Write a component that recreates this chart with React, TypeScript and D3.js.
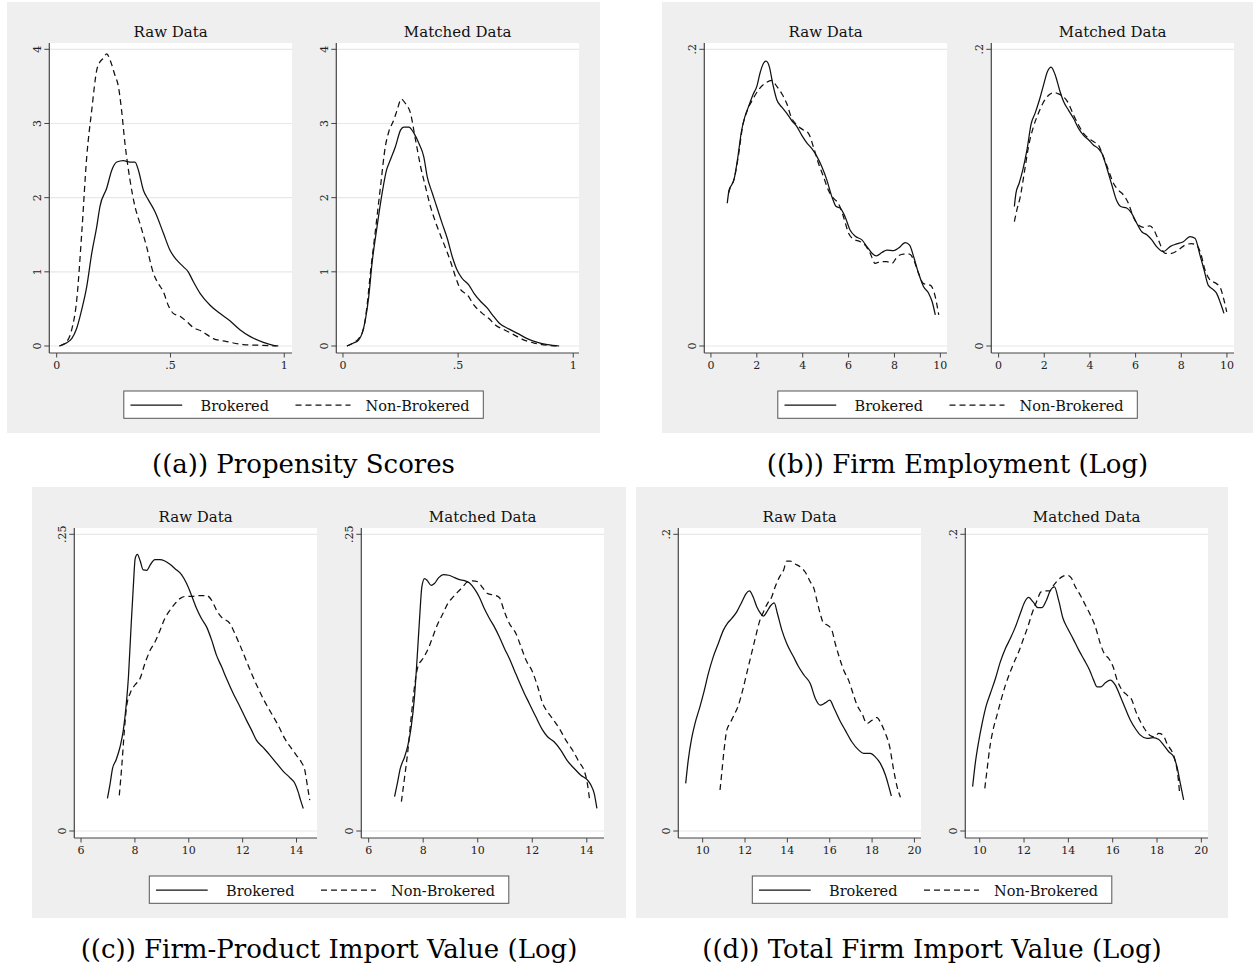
import * as d3 from "d3";

// kernel density curves, [x, density]
const propRawBrokered = [
  [0.012, 0], [0.044, 0.045], [0.066, 0.1], [0.088, 0.24], [0.11, 0.49], [0.132, 0.8], [0.154, 1.25],
  [0.176, 1.61], [0.19, 1.88], [0.22, 2.13], [0.242, 2.37], [0.264, 2.48], [0.293, 2.5], [0.322, 2.48],
  [0.344, 2.48], [0.359, 2.37], [0.381, 2.1], [0.403, 1.97], [0.432, 1.81], [0.469, 1.52], [0.498, 1.29],
  [0.527, 1.16], [0.556, 1.07], [0.578, 1.0], [0.6, 0.87], [0.63, 0.71], [0.674, 0.55], [0.717, 0.44],
  [0.761, 0.34], [0.805, 0.22], [0.849, 0.13], [0.908, 0.05], [0.966, 0],
];
const propRawNonBrokered = [
  [0.012, 0], [0.044, 0.06], [0.066, 0.22], [0.088, 0.62], [0.11, 1.52], [0.132, 2.55], [0.154, 3.18],
  [0.176, 3.72], [0.19, 3.83], [0.205, 3.88], [0.22, 3.94], [0.234, 3.86], [0.256, 3.65], [0.271, 3.5],
  [0.285, 3.18], [0.3, 2.73], [0.322, 2.24], [0.344, 1.88], [0.366, 1.65], [0.395, 1.34], [0.425, 0.98],
  [0.447, 0.84], [0.469, 0.73], [0.49, 0.55], [0.512, 0.44], [0.542, 0.4], [0.571, 0.33], [0.6, 0.25],
  [0.637, 0.2], [0.688, 0.1], [0.747, 0.06], [0.82, 0.02], [0.893, 0.01], [0.974, 0],
];
const propMatchedBrokered = [
  [0.017, 0], [0.046, 0.04], [0.068, 0.08], [0.083, 0.17], [0.097, 0.35], [0.112, 0.67], [0.126, 1.11],
  [0.148, 1.61], [0.17, 2.06], [0.189, 2.37], [0.206, 2.51], [0.228, 2.69], [0.25, 2.91], [0.264, 2.95],
  [0.286, 2.95], [0.308, 2.87], [0.33, 2.73], [0.351, 2.55], [0.366, 2.28], [0.388, 2.06], [0.409, 1.86],
  [0.431, 1.65], [0.453, 1.45], [0.475, 1.2], [0.496, 1.02], [0.518, 0.91], [0.547, 0.82], [0.569, 0.71],
  [0.598, 0.6], [0.627, 0.51], [0.649, 0.42], [0.678, 0.31], [0.714, 0.24], [0.758, 0.17], [0.8, 0.1],
  [0.845, 0.05], [0.888, 0.02], [0.939, 0],
];
const propMatchedNonBrokered = [
  [0.017, 0], [0.046, 0.045], [0.068, 0.1], [0.09, 0.24], [0.104, 0.53], [0.119, 0.98], [0.141, 1.56],
  [0.163, 2.15], [0.184, 2.69], [0.199, 2.89], [0.221, 3.05], [0.235, 3.18], [0.253, 3.33], [0.271, 3.27],
  [0.293, 3.14], [0.315, 2.78], [0.337, 2.42], [0.358, 2.15], [0.38, 1.88], [0.409, 1.61], [0.438, 1.38],
  [0.467, 1.14], [0.489, 0.93], [0.511, 0.76], [0.54, 0.69], [0.569, 0.55], [0.605, 0.44], [0.634, 0.37],
  [0.663, 0.28], [0.7, 0.22], [0.743, 0.15], [0.787, 0.08], [0.83, 0.04], [0.888, 0.01], [0.932, 0],
];

const empRawBrokered = [
  [0.71, 0.0962], [0.79, 0.105], [0.9, 0.1085], [1.0, 0.112], [1.15, 0.125], [1.34, 0.1456], [1.48, 0.1546],
  [1.63, 0.161], [1.85, 0.17], [2.0, 0.175], [2.14, 0.184], [2.29, 0.1906], [2.4, 0.192], [2.55, 0.188],
  [2.69, 0.177], [2.87, 0.166], [3.09, 0.161], [3.3, 0.157], [3.52, 0.152], [3.74, 0.148], [3.96, 0.142],
  [4.18, 0.137], [4.4, 0.133], [4.61, 0.128], [4.83, 0.121], [5.05, 0.112], [5.27, 0.1007], [5.46, 0.094],
  [5.63, 0.093], [5.85, 0.087], [6.07, 0.078], [6.29, 0.074], [6.58, 0.0715], [6.8, 0.067], [7.02, 0.0625],
  [7.21, 0.0607], [7.45, 0.063], [7.67, 0.0647], [7.96, 0.0643], [8.18, 0.066], [8.47, 0.0697], [8.66, 0.068],
  [8.84, 0.06], [9.05, 0.049], [9.27, 0.04], [9.49, 0.0355], [9.64, 0.03], [9.78, 0.021],
];
const empRawNonBrokered = [
  [0.76, 0.103], [0.86, 0.1074], [1.0, 0.112], [1.19, 0.1276], [1.38, 0.148], [1.59, 0.159], [1.85, 0.167],
  [2.07, 0.1726], [2.36, 0.177], [2.65, 0.179], [2.87, 0.175], [3.09, 0.17], [3.3, 0.1636], [3.52, 0.1535],
  [3.74, 0.149], [4.03, 0.1456], [4.25, 0.1434], [4.47, 0.134], [4.69, 0.123], [4.91, 0.114], [5.12, 0.105],
  [5.34, 0.0996], [5.56, 0.096], [5.78, 0.087], [6.0, 0.076], [6.22, 0.072], [6.51, 0.0703], [6.72, 0.068],
  [6.94, 0.0625], [7.16, 0.0557], [7.38, 0.0568], [7.67, 0.0568], [7.89, 0.0557], [8.11, 0.06], [8.4, 0.062],
  [8.66, 0.062], [8.84, 0.058], [9.05, 0.049], [9.27, 0.042], [9.56, 0.041], [9.74, 0.0355], [9.93, 0.021],
];
const empMatchedBrokered = [
  [0.69, 0.094], [0.76, 0.103], [0.9, 0.1097], [1.06, 0.1187], [1.24, 0.132], [1.43, 0.15], [1.6, 0.157],
  [1.79, 0.166], [1.97, 0.176], [2.14, 0.185], [2.3, 0.188], [2.48, 0.1827], [2.67, 0.1726], [2.84, 0.165],
  [3.06, 0.159], [3.28, 0.1535], [3.5, 0.1467], [3.72, 0.142], [3.94, 0.139], [4.15, 0.1355], [4.37, 0.133],
  [4.52, 0.13], [4.74, 0.12], [4.96, 0.1085], [5.17, 0.098], [5.35, 0.094], [5.61, 0.093], [5.83, 0.0894],
  [6.05, 0.0827], [6.27, 0.077], [6.49, 0.075], [6.71, 0.0715], [6.92, 0.067], [7.22, 0.0636], [7.51, 0.067],
  [7.8, 0.0688], [8.09, 0.0703], [8.38, 0.0737], [8.6, 0.0726], [8.82, 0.0613], [9.0, 0.0512], [9.18, 0.041],
  [9.4, 0.038], [9.55, 0.0355], [9.72, 0.0288], [9.87, 0.022],
];
const empMatchedNonBrokered = [
  [0.69, 0.0838], [0.8, 0.0917], [0.95, 0.1007], [1.12, 0.1164], [1.31, 0.1344], [1.53, 0.148], [1.71, 0.1557],
  [1.94, 0.1636], [2.19, 0.169], [2.43, 0.1708], [2.62, 0.17], [2.84, 0.168], [3.06, 0.1636], [3.28, 0.1557],
  [3.5, 0.149], [3.72, 0.1434], [3.94, 0.14], [4.15, 0.1378], [4.37, 0.1355], [4.59, 0.1276], [4.81, 0.1187],
  [5.03, 0.1097], [5.25, 0.105], [5.47, 0.1018], [5.69, 0.096], [5.9, 0.087], [6.12, 0.0816], [6.34, 0.08],
  [6.63, 0.081], [6.81, 0.078], [7.0, 0.0715], [7.29, 0.0625], [7.58, 0.0625], [7.87, 0.0647], [8.16, 0.068],
  [8.45, 0.069], [8.67, 0.068], [8.85, 0.0625], [9.04, 0.0512], [9.26, 0.0445], [9.55, 0.042], [9.72, 0.039],
  [9.87, 0.031], [9.99, 0.023],
];

const prodRawBrokered = [
  [6.98, 0.0275], [7.08, 0.04], [7.17, 0.0527], [7.3, 0.0598], [7.45, 0.071], [7.57, 0.085], [7.67, 0.1047],
  [7.76, 0.13], [7.85, 0.169], [7.94, 0.2057], [8.01, 0.2295], [8.09, 0.233], [8.19, 0.228], [8.31, 0.22],
  [8.44, 0.2197], [8.58, 0.2247], [8.74, 0.2287], [8.93, 0.2287], [9.11, 0.2275], [9.3, 0.2247], [9.49, 0.221],
  [9.73, 0.216], [9.92, 0.2085], [10.1, 0.1987], [10.29, 0.1874], [10.47, 0.179], [10.66, 0.172], [10.85, 0.1608],
  [11.03, 0.148], [11.22, 0.1383], [11.4, 0.1285], [11.65, 0.1159], [11.9, 0.1047], [12.14, 0.0934],
  [12.33, 0.085], [12.51, 0.0766], [12.76, 0.0704], [13.01, 0.064], [13.26, 0.057], [13.5, 0.0505],
  [13.75, 0.045], [13.94, 0.04], [14.06, 0.033], [14.15, 0.026], [14.25, 0.019],
];
const prodRawNonBrokered = [
  [7.42, 0.03], [7.51, 0.054], [7.61, 0.085], [7.69, 0.1047], [7.82, 0.1159], [8.0, 0.123], [8.19, 0.1285],
  [8.37, 0.141], [8.56, 0.152], [8.74, 0.159], [8.93, 0.169], [9.11, 0.179], [9.3, 0.186], [9.49, 0.1916],
  [9.67, 0.1958], [9.92, 0.1978], [10.17, 0.1978], [10.41, 0.1984], [10.66, 0.1984], [10.85, 0.1944],
  [11.03, 0.186], [11.22, 0.18], [11.53, 0.1748], [11.71, 0.1664], [11.9, 0.1566], [12.08, 0.1467],
  [12.33, 0.1327], [12.58, 0.12], [12.82, 0.109], [13.07, 0.099], [13.32, 0.089], [13.56, 0.078],
  [13.81, 0.0696], [13.99, 0.064], [14.18, 0.058], [14.31, 0.051], [14.39, 0.04], [14.49, 0.026],
];
const prodMatchedBrokered = [
  [6.95, 0.0289], [7.05, 0.04], [7.16, 0.0527], [7.32, 0.0626], [7.44, 0.0724], [7.56, 0.0878], [7.68, 0.113],
  [7.78, 0.1467], [7.87, 0.18], [7.95, 0.2057], [8.05, 0.2127], [8.15, 0.211], [8.29, 0.207], [8.41, 0.2085],
  [8.57, 0.2135], [8.74, 0.216], [8.94, 0.2155], [9.15, 0.2135], [9.33, 0.2118], [9.51, 0.211], [9.7, 0.209],
  [9.88, 0.204], [10.06, 0.197], [10.24, 0.1874], [10.43, 0.179], [10.61, 0.172], [10.79, 0.1636],
  [10.98, 0.1538], [11.16, 0.1453], [11.34, 0.1355], [11.52, 0.1257], [11.71, 0.1159], [11.89, 0.1075],
  [12.13, 0.0962], [12.38, 0.085], [12.56, 0.0794], [12.8, 0.0752], [13.05, 0.068], [13.29, 0.059],
  [13.54, 0.0527], [13.78, 0.047], [14.02, 0.043], [14.15, 0.0387], [14.27, 0.0317], [14.37, 0.019],
];
const prodMatchedNonBrokered = [
  [7.2, 0.0247], [7.32, 0.0457], [7.44, 0.068], [7.56, 0.096], [7.68, 0.1215], [7.8, 0.138], [7.99, 0.1453],
  [8.21, 0.155], [8.35, 0.1636], [8.54, 0.1748], [8.72, 0.183], [8.9, 0.1916], [9.09, 0.197], [9.27, 0.2015],
  [9.45, 0.2057], [9.63, 0.21], [9.82, 0.2107], [10.0, 0.21], [10.18, 0.205], [10.37, 0.2], [10.61, 0.1987],
  [10.79, 0.1967], [10.98, 0.1846], [11.16, 0.1748], [11.4, 0.1664], [11.59, 0.155], [11.77, 0.144],
  [12.01, 0.134], [12.2, 0.1215], [12.38, 0.1075], [12.56, 0.1004], [12.74, 0.0948], [12.99, 0.0864],
  [13.23, 0.0766], [13.48, 0.068], [13.72, 0.058], [13.9, 0.051], [14.02, 0.04], [14.11, 0.0247],
];

const totRawBrokered = [
  [9.2, 0.0321], [9.32, 0.0478], [9.48, 0.0624], [9.64, 0.0725], [9.87, 0.0837], [10.06, 0.0938], [10.27, 0.1062],
  [10.5, 0.1174], [10.74, 0.1264], [10.98, 0.1354], [11.17, 0.14], [11.37, 0.1432], [11.61, 0.1477],
  [11.85, 0.1544], [12.05, 0.16], [12.21, 0.1618], [12.37, 0.1582], [12.56, 0.151], [12.74, 0.1466],
  [12.87, 0.1448], [13.03, 0.1477], [13.19, 0.1515], [13.38, 0.1538], [13.53, 0.1466], [13.74, 0.1354],
  [13.97, 0.1264], [14.29, 0.1174], [14.53, 0.1107], [14.79, 0.105], [15.08, 0.0994], [15.32, 0.0893],
  [15.55, 0.0848], [15.79, 0.0864], [16.0, 0.0882], [16.21, 0.0826], [16.47, 0.0747], [16.73, 0.068],
  [17.05, 0.06], [17.37, 0.0545], [17.6, 0.0523], [17.92, 0.0523], [18.15, 0.05], [18.39, 0.0456],
  [18.63, 0.0377], [18.79, 0.0299], [18.91, 0.0236],
];
const totRawNonBrokered = [
  [10.82, 0.0276], [10.9, 0.0388], [11.01, 0.0545], [11.14, 0.068], [11.29, 0.0725], [11.48, 0.0781],
  [11.69, 0.0848], [11.89, 0.095], [12.08, 0.1062], [12.27, 0.1174], [12.48, 0.1297], [12.68, 0.141],
  [12.87, 0.1477], [13.06, 0.1533], [13.26, 0.1578], [13.42, 0.1645], [13.63, 0.1713], [13.82, 0.1758],
  [13.97, 0.182], [14.13, 0.182], [14.37, 0.18], [14.61, 0.178], [14.84, 0.1746], [15.08, 0.168],
  [15.27, 0.1627], [15.39, 0.1556], [15.55, 0.1466], [15.71, 0.14], [15.9, 0.1387], [16.1, 0.1354],
  [16.26, 0.1264], [16.47, 0.1163], [16.66, 0.1084], [16.89, 0.1017], [17.1, 0.0927], [17.29, 0.0848],
  [17.52, 0.0792], [17.76, 0.0725], [18.0, 0.0747], [18.23, 0.0765], [18.42, 0.0725], [18.63, 0.0658],
  [18.83, 0.0568], [19.02, 0.041], [19.18, 0.0299], [19.34, 0.0227],
];
const totMatchedBrokered = [
  [9.68, 0.0299], [9.8, 0.0456], [9.95, 0.06], [10.11, 0.0725], [10.3, 0.0848], [10.48, 0.0927], [10.71, 0.1028],
  [10.93, 0.114], [11.16, 0.123], [11.38, 0.1297], [11.61, 0.1376], [11.83, 0.1466], [12.03, 0.1544],
  [12.21, 0.1574], [12.41, 0.1544], [12.62, 0.1506], [12.81, 0.1506], [13.01, 0.1556], [13.19, 0.1623],
  [13.37, 0.1645], [13.56, 0.1556], [13.76, 0.1432], [13.97, 0.1365], [14.21, 0.1297], [14.47, 0.1219],
  [14.72, 0.1152], [14.96, 0.1084], [15.14, 0.1017], [15.29, 0.0972], [15.47, 0.0972], [15.67, 0.0999],
  [15.89, 0.1017], [16.12, 0.0983], [16.35, 0.0905], [16.57, 0.0826], [16.8, 0.0747], [17.02, 0.0691],
  [17.25, 0.0646], [17.55, 0.0624], [17.82, 0.0629], [18.08, 0.0617], [18.3, 0.0579], [18.53, 0.0534],
  [18.75, 0.05], [18.9, 0.0433], [19.05, 0.0321], [19.2, 0.0209],
];
const totMatchedNonBrokered = [
  [10.23, 0.0287], [10.33, 0.0411], [10.45, 0.0557], [10.6, 0.068], [10.78, 0.0781], [10.96, 0.0882],
  [11.16, 0.0983], [11.35, 0.1062], [11.56, 0.114], [11.76, 0.1208], [11.95, 0.1286], [12.17, 0.1376],
  [12.36, 0.1466], [12.56, 0.1544], [12.77, 0.1612], [12.96, 0.1618], [13.16, 0.1618], [13.34, 0.1657],
  [13.52, 0.169], [13.71, 0.1713], [13.94, 0.1724], [14.12, 0.1708], [14.32, 0.1645], [14.54, 0.1589],
  [14.77, 0.1522], [15.0, 0.1455], [15.22, 0.1376], [15.44, 0.1264], [15.62, 0.1196], [15.82, 0.1163],
  [16.02, 0.1107], [16.2, 0.1017], [16.42, 0.095], [16.65, 0.0916], [16.87, 0.0882], [17.02, 0.0815],
  [17.22, 0.0747], [17.43, 0.0691], [17.67, 0.0646], [17.88, 0.0635], [18.08, 0.0658], [18.27, 0.0646],
  [18.48, 0.0579], [18.68, 0.0534], [18.83, 0.0467], [18.93, 0.0388], [19.02, 0.0254],
];

const seriesLabels = ["Brokered", "Non-Brokered"];
const subplotTitles = ["Raw Data", "Matched Data"];
const panelCaptions = [
  "((a)) Propensity Scores",
  "((b)) Firm Employment (Log)",
  "((c)) Firm-Product Import Value (Log)",
  "((d)) Total Firm Import Value (Log)",
];
const propXTicks = [0, 0.5, 1];
const propYTicks = [0, 1, 2, 3, 4];
const empXTicks = [0, 2, 4, 6, 8, 10];
const empYTicks = [0, 0.2];
const prodXTicks = [6, 8, 10, 12, 14];
const prodYTicks = [0, 0.25];
const totXTicks = [10, 12, 14, 16, 18, 20];
const totYTicks = [0, 0.2];

const panels = [
  {
    caption: panelCaptions[0], xTicks: propXTicks, yTicks: propYTicks,
    plots: [
      { xDomain: [-0.0325, 1.034], series: [propRawBrokered, propRawNonBrokered] },
      { xDomain: [-0.029, 1.025], series: [propMatchedBrokered, propMatchedNonBrokered] },
    ],
  },
  {
    caption: panelCaptions[1], xTicks: empXTicks, yTicks: empYTicks,
    plots: [
      { xDomain: [-0.29, 10.29], series: [empRawBrokered, empRawNonBrokered] },
      { xDomain: [-0.32, 10.31], series: [empMatchedBrokered, empMatchedNonBrokered] },
    ],
  },
  {
    caption: panelCaptions[2], xTicks: prodXTicks, yTicks: prodYTicks,
    plots: [
      { xDomain: [5.75, 14.76], series: [prodRawBrokered, prodRawNonBrokered] },
      { xDomain: [5.73, 14.63], series: [prodMatchedBrokered, prodMatchedNonBrokered] },
    ],
  },
  {
    caption: panelCaptions[3], xTicks: totXTicks, yTicks: totYTicks,
    plots: [
      { xDomain: [8.85, 20.31], series: [totRawBrokered, totRawNonBrokered] },
      { xDomain: [9.35, 20.3], series: [totMatchedBrokered, totMatchedNonBrokered] },
    ],
  },
];

// layout
const W = 1253;
const H = 972;
const boxes = [
  { x: 7, y: 2, w: 593 },
  { x: 662, y: 2, w: 591 },
  { x: 32, y: 487, w: 594 },
  { x: 636, y: 487, w: 592 },
];
const boxH = 431;
const plotCols = [
  { left: 42.3, right: 285 },
  { left: 329.3, right: 572 },
];
const plotTop = 41;
const plotBottom = 351;
const yTopTick = 47.3;
const yZeroTick = 344;

const bg = "#efefef";
const grid = "#e8e8e8";
const axisColor = "#444";
const serif = "'DejaVu Serif', serif";
const dashes = ["none", "6,4"];

const fmt = (v: number) => String(v).replace(/^0\./, ".");

function SubPlot({ ox, oy, col, plot, xTicks, yTicks, title }: any) {
  const left = ox + plotCols[col].left;
  const right = ox + plotCols[col].right;
  const top = oy + plotTop;
  const bottom = oy + plotBottom;
  const x = d3.scaleLinear().domain(plot.xDomain).range([left, right]);
  const y = d3
    .scaleLinear()
    .domain([0, yTicks[yTicks.length - 1]])
    .range([oy + yZeroTick, oy + yTopTick]);
  const line = d3
    .line<number[]>()
    .x((d) => x(d[0]))
    .y((d) => y(d[1]))
    .curve(d3.curveMonotoneX);
  return (
    <g>
      <rect x={left} y={top} width={right - left} height={bottom - top} fill="#fff" />
      {yTicks.map((t: number) => (
        <line key={"g" + t} x1={left} x2={right} y1={y(t)} y2={y(t)} stroke={grid} strokeWidth={1.2} />
      ))}
      {plot.series.map((s: number[][], i: number) => (
        <path
          key={i}
          d={line(s) || ""}
          fill="none"
          stroke="#111"
          strokeWidth={1.25}
          strokeDasharray={dashes[i]}
        />
      ))}
      <line x1={left} x2={left} y1={top} y2={bottom} stroke={axisColor} strokeWidth={1.2} />
      <line x1={left} x2={right} y1={bottom} y2={bottom} stroke={axisColor} strokeWidth={1.2} />
      {yTicks.map((t: number) => (
        <g key={"y" + t}>
          <line x1={left - 5} x2={left} y1={y(t)} y2={y(t)} stroke={axisColor} strokeWidth={1} />
          <text
            transform={`translate(${left - 8.3},${y(t)}) rotate(-90)`}
            textAnchor="middle"
            fontFamily={serif}
            fontSize={11}
            fill="#222"
          >
            {fmt(t)}
          </text>
        </g>
      ))}
      {xTicks.map((t: number) => (
        <g key={"x" + t}>
          <line x1={x(t)} x2={x(t)} y1={bottom} y2={bottom + 4.5} stroke={axisColor} strokeWidth={1} />
          <text x={x(t)} y={bottom + 15.5} textAnchor="middle" fontFamily={serif} fontSize={11} fill="#222">
            {fmt(t)}
          </text>
        </g>
      ))}
      <text x={(left + right) / 2} y={top - 6} textAnchor="middle" fontFamily={serif} fontSize={15} fill="#111">
        {title}
      </text>
    </g>
  );
}

function Panel({ idx }: { idx: number }) {
  const p = panels[idx];
  const b = boxes[idx];
  const cx = b.x + b.w / 2;
  const lx = cx - 179.7;
  const ly = b.y + 389;
  return (
    <g>
      <rect x={b.x} y={b.y} width={b.w} height={boxH} fill={bg} />
      {p.plots.map((pl, i) => (
        <SubPlot
          key={i}
          ox={b.x}
          oy={b.y}
          col={i}
          plot={pl}
          xTicks={p.xTicks}
          yTicks={p.yTicks}
          title={subplotTitles[i]}
        />
      ))}
      <rect x={lx} y={ly} width={359.5} height={27.3} fill="#fff" stroke="#555" strokeWidth={1} />
      <line x1={lx + 6.7} x2={lx + 58.4} y1={ly + 14} y2={ly + 14} stroke="#111" strokeWidth={1.25} />
      <text x={lx + 76.7} y={ly + 19.5} fontFamily={serif} fontSize={14.5} fill="#111">
        {seriesLabels[0]}
      </text>
      <line
        x1={lx + 171.7}
        x2={lx + 226.7}
        y1={ly + 14}
        y2={ly + 14}
        stroke="#111"
        strokeWidth={1.25}
        strokeDasharray={dashes[1]}
      />
      <text x={lx + 241.7} y={ly + 19.5} fontFamily={serif} fontSize={14.5} fill="#111">
        {seriesLabels[1]}
      </text>
      <text x={cx} y={b.y + 471} textAnchor="middle" fontFamily={serif} fontSize={26} fill="#000">
        {p.caption}
      </text>
    </g>
  );
}

export default function App() {
  return (
    <svg
      width={W}
      height={H}
      viewBox={`0 0 ${W} ${H}`}
      style={{ position: "absolute", left: 0, top: 0, display: "block", background: "#fff" }}
    >
      {panels.map((_, i) => (
        <Panel key={i} idx={i} />
      ))}
    </svg>
  );
}
